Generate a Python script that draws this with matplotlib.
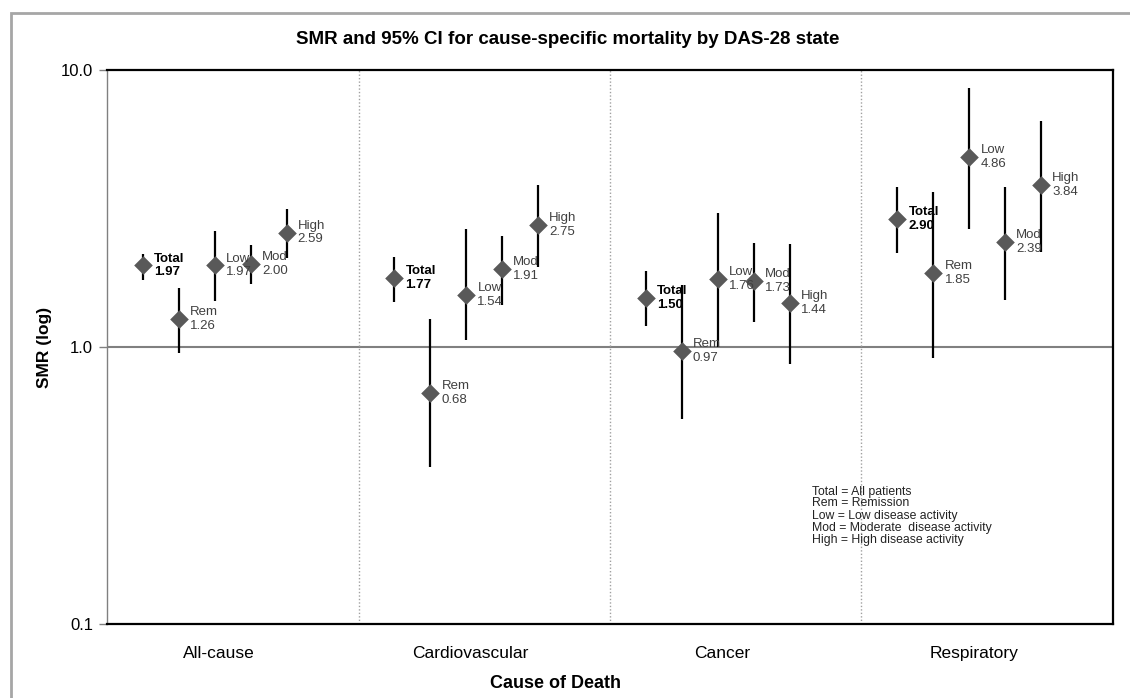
import matplotlib
matplotlib.use("Agg")
import matplotlib.pyplot as plt
import matplotlib.patches as patches
import numpy as np

plt.rcParams['font.family'] = ['Liberation Sans', 'DejaVu Sans']

causes = ["All-cause", "Cardiovascular", "Cancer", "Respiratory"]
states = ["Total", "Rem", "Low", "Mod", "High"]

# SMR point estimates, rows = cause, cols = state
smr = [
    [1.97, 1.26, 1.97, 2.00, 2.59],
    [1.77, 0.68, 1.54, 1.91, 2.75],
    [1.50, 0.97, 1.76, 1.73, 1.44],
    [2.90, 1.85, 4.86, 2.39, 3.84],
]
# 95% CI lower / upper
ci_low = [
    [1.75, 0.95, 1.47, 1.69, 2.10],
    [1.45, 0.37, 1.06, 1.42, 1.94],
    [1.19, 0.55, 1.00, 1.23, 0.87],
    [2.18, 0.91, 2.67, 1.48, 2.20],
]
ci_high = [
    [2.17, 1.63, 2.62, 2.34, 3.15],
    [2.11, 1.26, 2.67, 2.52, 3.85],
    [1.88, 1.67, 3.05, 2.37, 2.36],
    [3.78, 3.63, 8.60, 3.78, 6.54],
]

legend_lines = [
    "Total = All patients",
    "Rem = Remission",
    "Low = Low disease activity",
    "Mod = Moderate  disease activity",
    "High = High disease activity",
]

W, H = 1130, 698
fig = plt.figure(figsize=(W / 100, H / 100), dpi=100)
ax = fig.add_axes([107 / W, 1 - 624 / H, 1006 / W, 554 / H])

# outer chart border
fig.patches.append(patches.Rectangle((11 / W, -0.05), 1.1, 1 - 13 / H + 0.05,
                                     transform=fig.transFigure, fill=False,
                                     edgecolor="#a6a6a6", linewidth=2, zorder=0))

slots = len(states) + 2
smr = np.array(smr)
lo = np.array(ci_low)
hi = np.array(ci_high)

ax.axhline(1.0, color="#808080", lw=1.5, zorder=1)
for k in range(1, len(causes)):
    ax.axvline(k * slots, color="#a0a0a0", lw=1, ls=(0, (1, 1.5)), zorder=1)

for k in range(len(causes)):
    xs = k * slots + np.arange(1, len(states) + 1)
    ax.vlines(xs, lo[k], hi[k], color="black", lw=1.6, zorder=2)
    ax.scatter(xs, smr[k], marker="D", s=90, color="#595959", zorder=3, linewidths=0)
    for i, st in enumerate(states):
        bold = st == "Total"
        ax.annotate(f"{st}\n{smr[k, i]:.2f}", (xs[i], smr[k, i]), xytext=(8, 0),
                    textcoords="offset points", ha="left", va="center",
                    fontsize=9.5, linespacing=1.2, color="black" if bold else "#404040",
                    fontweight="bold" if bold else "normal")

ax.set_yscale("log")
ax.set_ylim(0.1, 10)
ax.set_xlim(0, slots * len(causes))
ax.set_yticks([0.1, 1, 10])
ax.set_yticklabels(["0.1", "1.0", "10.0"], fontsize=12)
ax.yaxis.set_minor_locator(matplotlib.ticker.NullLocator())
ax.tick_params(axis="y", length=6, color="#808080", width=1, pad=4)
ax.set_xticks([k * slots + 3.12 for k in range(len(causes))])
ax.set_xticklabels(causes, fontsize=12.5)
ax.tick_params(axis="x", length=0, pad=16)

for side in ["top", "right", "bottom"]:
    ax.spines[side].set_color("black")
    ax.spines[side].set_linewidth(1.6)
ax.spines["left"].set_color("#808080")
ax.spines["left"].set_linewidth(1)

fig.text(44 / W, 1 - 347 / H, "SMR (log)", rotation=90, fontsize=12.5,
         fontweight="bold", ha="center", va="center")
fig.text(555 / W, 1 - 684 / H, "Cause of Death", fontsize=13,
         fontweight="bold", ha="center", va="center")
fig.text(568 / W, 1 - 40 / H, "SMR and 95% CI for cause-specific mortality by DAS-28 state",
         fontsize=13.5, fontweight="bold", ha="center", va="center")

ax.text(0.701, 0.25, "\n".join(legend_lines), transform=ax.transAxes,
        fontsize=8.8, va="top", ha="left", linespacing=1.0, color="#222222")

fig.savefig("out.png", dpi=100)
